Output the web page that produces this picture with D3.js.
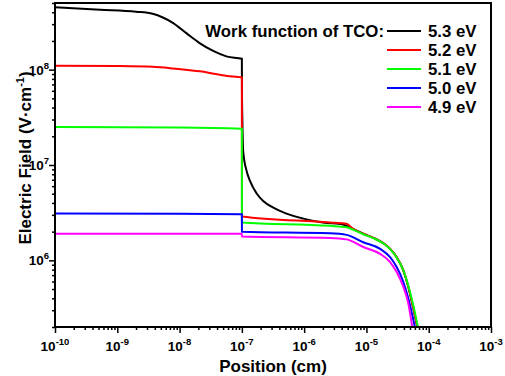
<!DOCTYPE html>
<html>
<head>
<meta charset="utf-8">
<script src="https://cdn.jsdelivr.net/npm/d3@7"></script>
<style>
  body { margin: 0; background: #fff; }
  svg text { font-family: Arial, "Liberation Sans", sans-serif; font-weight: bold; fill: #000; }
</style>
</head>
<body>
<div class="chart"></div>
<script>
// values: [position (cm), field (V/cm)]
const wf53 = [[1e-10, 4.5e8], [5.3e-10, 4.25e8], [2e-9, 4.05e8], [3.7e-9, 3.85e8], [5.5e-9, 3.5e8],
    [7.8e-9, 3.1e8], [1.3e-8, 2.4e8], [2.1e-8, 1.9e8], [3.4e-8, 1.58e8], [5.8e-8, 1.37e8],
    [1e-7, 1.3e8], [1.004e-7, 6e7], [1.02e-7, 2.9e7], [1.05e-7, 1.4e7], [1.19e-7, 8.7e6],
    [1.35e-7, 6.8e6], [1.74e-7, 5.0e6], [2.2e-7, 4.2e6], [3.2e-7, 3.57e6], [5.2e-7, 3.09e6],
    [9.7e-7, 2.74e6], [2e-6, 2.49e6], [4.2e-6, 2.38e6], [6.1e-6, 2.14e6], [8.9e-6, 1.9e6],
    [1.29e-5, 1.72e6], [1.88e-5, 1.51e6], [2.4e-5, 1.32e6], [3.06e-5, 1.08e6], [3.9e-5, 7.9e5],
    [4.7e-5, 5.3e5], [5.6e-5, 3.25e5], [6.7e-5, 1.9e5]];
const wf52 = [[1e-10, 1.1e8], [1e-9, 1.09e8], [3.7e-9, 1.07e8], [7.8e-9, 1.03e8], [2.1e-8, 9.6e7],
    [5.8e-8, 8.6e7], [1e-7, 8.3e7], [1.003e-7, 2.89e6], [2.6e-6, 2.5e6], [4.8e-6, 2.42e6],
    [6.1e-6, 2.14e6], [8.9e-6, 1.9e6], [1.29e-5, 1.72e6], [1.88e-5, 1.51e6], [2.4e-5, 1.32e6],
    [3.06e-5, 1.08e6], [3.9e-5, 7.9e5], [4.7e-5, 5.3e5], [5.6e-5, 3.25e5], [6.7e-5, 1.9e5]];
const wf51 = [[1e-10, 2.5e7], [1e-8, 2.48e7], [1e-7, 2.4e7], [1.003e-7, 2.5e6], [2.6e-6, 2.3e6],
    [4.8e-6, 2.22e6], [6.1e-6, 2.1e6], [8.9e-6, 1.88e6], [1.29e-5, 1.71e6], [1.88e-5, 1.5e6],
    [2.4e-5, 1.31e6], [3.06e-5, 1.07e6], [3.9e-5, 7.9e5], [4.7e-5, 5.4e5], [5.7e-5, 3.3e5], [6.8e-5, 1.9e5]];
const wf50 = [[1e-10, 3.1e6], [1e-8, 3.09e6], [1e-7, 3.05e6], [1.003e-7, 2.0e6], [2.6e-6, 1.92e6],
    [4.8e-6, 1.85e6], [8.9e-6, 1.55e6], [1.66e-5, 1.32e6], [2.4e-5, 1.08e6], [3.06e-5, 8.5e5],
    [3.9e-5, 5.95e5], [4.7e-5, 4e5], [6.1e-5, 1.9e5]];
const wf49 = [[1e-10, 1.9e6], [1e-8, 1.9e6], [1e-7, 1.9e6], [1.003e-7, 1.78e6], [2.6e-6, 1.72e6],
    [4.8e-6, 1.66e6], [8.9e-6, 1.38e6], [1.66e-5, 1.17e6], [2.4e-5, 9.6e5], [3.06e-5, 7.55e5],
    [3.9e-5, 5.3e5], [4.7e-5, 3.54e5], [5.5e-5, 1.9e5]];

const seriesData = [wf53, wf52, wf51, wf50, wf49];
const seriesNames = ["5.3 eV", "5.2 eV", "5.1 eV", "5.0 eV", "4.9 eV"];
const seriesColors = ["#000000", "#ff0000", "#00ff00", "#0000ff", "#ff00ff"];
const xTickExp = [-10, -9, -8, -7, -6, -5, -4, -3];
const yTickExp = [6, 7, 8];

const width = 505;
const height = 376;
const margin = {top: 3, right: 14, bottom: 49, left: 55};

const x = d3.scaleLog()
    .domain([1e-10, 1e-3])
    .range([margin.left, width - margin.right]);

const y = d3.scaleLog()
    .domain([2e5, 5e8])
    .range([height - margin.bottom, margin.top]);

let svg = d3.select(".chart").append("svg")
    .attr("width", width)
    .attr("height", height);

svg.append("clipPath").attr("id", "plot-clip")
    .append("rect")
    .attr("x", margin.left)
    .attr("y", margin.top)
    .attr("width", width - margin.left - margin.right)
    .attr("height", height - margin.top - margin.bottom);

// minor ticks, 2..9 in every decade
const xMinor = [];
xTickExp.slice(0, -1).forEach(e => { for (let k = 2; k <= 9; k++) xMinor.push(k * Math.pow(10, e)); });
const yMinor = [];
[5, 6, 7, 8].forEach(e => { for (let k = 2; k <= 9; k++) { const v = k * Math.pow(10, e); if (v >= 2e5 && v <= 5e8) yMinor.push(v); } });

const xAxis = svg.append("g").attr("transform", `translate(0,${height - margin.bottom})`);
xAxis.call(d3.axisBottom(x).tickValues(xTickExp.map(e => Math.pow(10, e))).tickSize(6).tickFormat(""));
xAxis.append("g").call(d3.axisBottom(x).tickValues(xMinor).tickSize(3).tickFormat(""));
xAxis.selectAll(".domain").remove();
xAxis.selectAll("line").attr("stroke", "#000").attr("stroke-width", 1.5);

const yAxis = svg.append("g").attr("transform", `translate(${margin.left},0)`);
yAxis.call(d3.axisLeft(y).tickValues(yTickExp.map(e => Math.pow(10, e))).tickSize(6).tickFormat(""));
yAxis.append("g").call(d3.axisLeft(y).tickValues(yMinor).tickSize(3).tickFormat(""));
yAxis.selectAll(".domain").remove();
yAxis.selectAll("line").attr("stroke", "#000").attr("stroke-width", 1.5);

// tick labels as 10 with superscript exponent
xTickExp.forEach(e => {
    const t = svg.append("text")
        .attr("x", x(Math.pow(10, e)))
        .attr("y", height - margin.bottom + 24)
        .attr("text-anchor", "middle")
        .style("font-size", "13.5px");
    t.append("tspan").text("10");
    t.append("tspan").attr("dy", -6).style("font-size", "9.5px").text(e);
});
yTickExp.forEach(e => {
    const t = svg.append("text")
        .attr("x", margin.left - 6)
        .attr("y", y(Math.pow(10, e)) + 5)
        .attr("text-anchor", "end")
        .style("font-size", "13.5px");
    t.append("tspan").text("10");
    t.append("tspan").attr("dy", -6).style("font-size", "9.5px").text(e);
});

const line = d3.line()
    .x(d => x(d[0]))
    .y(d => y(d[1]))
    .curve(d3.curveMonotoneX);

svg.append("g").attr("clip-path", "url(#plot-clip)")
    .selectAll("path")
    .data(seriesData)
    .enter()
    .append("path")
    .attr("d", line)
    .attr("fill", "none")
    .attr("stroke", (d, i) => seriesColors[i])
    .attr("stroke-width", 2);

// frame
svg.append("rect")
    .attr("x", margin.left)
    .attr("y", margin.top)
    .attr("width", width - margin.left - margin.right)
    .attr("height", height - margin.top - margin.bottom)
    .attr("fill", "none")
    .attr("stroke", "#000")
    .attr("stroke-width", 2);

// legend
const legend = svg.append("g");
legend.append("text")
    .attr("x", 384)
    .attr("y", 37)
    .attr("text-anchor", "end")
    .style("font-size", "16.8px")
    .text("Work function of TCO:");
seriesNames.forEach((name, i) => {
    const ly = 31 + i * 19;
    legend.append("line")
        .attr("x1", 387).attr("x2", 421)
        .attr("y1", ly).attr("y2", ly)
        .attr("stroke", seriesColors[i])
        .attr("stroke-width", 2);
    legend.append("text")
        .attr("x", 428)
        .attr("y", ly + 6)
        .style("font-size", "16.8px")
        .text(name);
});

// axis titles
svg.append("text")
    .attr("x", (margin.left + width - margin.right) / 2)
    .attr("y", 372)
    .attr("text-anchor", "middle")
    .style("font-size", "17px")
    .text("Position (cm)");

const yTitle = svg.append("text")
    .attr("transform", "translate(31,158) rotate(-90)")
    .attr("text-anchor", "middle")
    .style("font-size", "17px");
yTitle.append("tspan").text("Electric Field (V\u00b7cm");
yTitle.append("tspan").attr("dy", -7).style("font-size", "11px").text("-1");
yTitle.append("tspan").attr("dy", 7).text(")");
</script>
</body>
</html>
